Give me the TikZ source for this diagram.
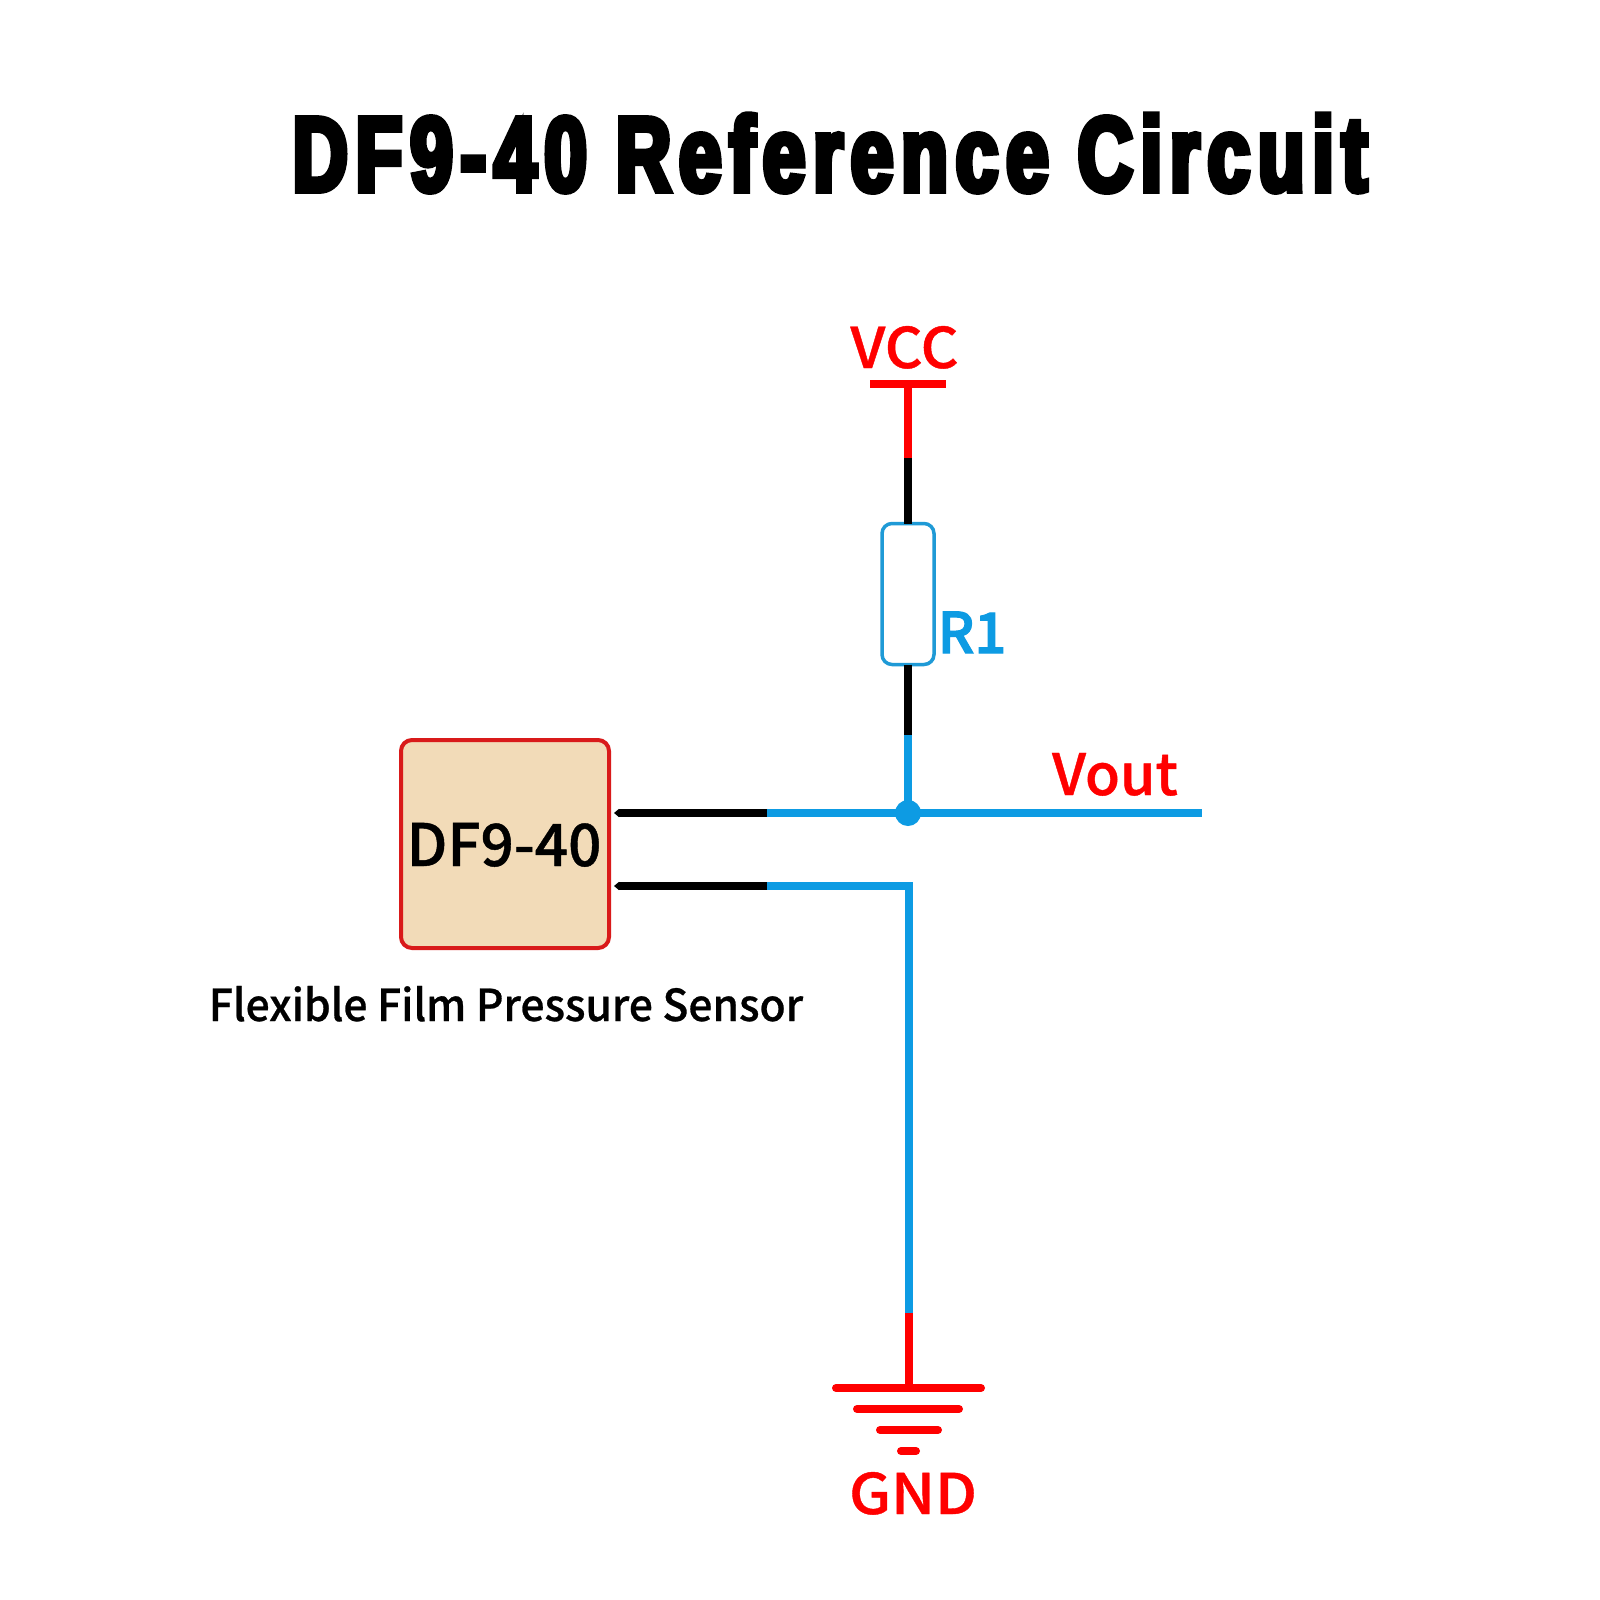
\documentclass[tikz,border=0pt]{standalone}
\usepackage{fontspec}
\usetikzlibrary{arrows.meta}
\setmainfont{Noto Sans CJK SC}
\newfontfamily\titlefont[FakeStretch=0.72,FakeBold=5.5,LetterSpace=7.5]{Liberation Sans Bold}
\newfontfamily\labfont[UprightFont=* Medium,FakeBold=0.7]{Noto Sans CJK SC}
\newfontfamily\gndfont[UprightFont=* Medium,FakeBold=0.7,FakeStretch=1.07]{Noto Sans CJK SC}
\newfontfamily\vccfont[UprightFont=* Medium,FakeBold=0.7,FakeStretch=1.05]{Noto Sans CJK SC}
\newfontfamily\flexfont[UprightFont=* Medium,FakeBold=0.6,FakeStretch=0.968]{Noto Sans CJK SC}
\newfontfamily\rfont[UprightFont=* Medium,FakeBold=2.2]{Noto Sans CJK SC}
\definecolor{wblue}{HTML}{0D9BE3}
\definecolor{wred}{HTML}{FF0000}
\definecolor{boxfill}{HTML}{F2DBB8}
\definecolor{boxline}{HTML}{D91A1A}
\definecolor{resline}{HTML}{1F9AD6}
\tikzset{
  x=1pt,y=-1pt,
  wire/.style={line width=8pt,line cap=butt},
  blackw/.style={wire,draw=black},
  bluew/.style={wire,draw=wblue},
  redw/.style={wire,draw=wred},
  tipw/.style={blackw,{Triangle[length=5pt,width=8pt]}-},
  gbar/.style={wire,draw=wred,line cap=round,line width=8pt},
  lab/.style={inner sep=0pt,outer sep=0pt,anchor=base,font=\labfont},
}
\begin{document}
\begin{tikzpicture}
\useasboundingbox (0,0) rectangle (1600,1600);
\fill[white] (0,0) rectangle (1600,1600);
% title
\node[inner sep=0pt,anchor=base,font=\titlefont\fontsize{106}{106}\selectfont] (title) at (830,191) {DF9-40 Reference Circuit};
% coordinates
\coordinate (vtop) at (908,384);
\coordinate (vbarl) at (870,384);
\coordinate (vbarr) at (946,384);
\coordinate (rv) at (908,458);
\coordinate (bv) at (908,735);
\coordinate (jn) at (908,813);
\coordinate (p1) at (614,813);
\coordinate (p1b) at (767,813);
\coordinate (out) at (1202,813);
\coordinate (p2) at (614,886);
\coordinate (p2b) at (767,886);
\coordinate (cor) at (909,886);
\coordinate (gb) at (909,1313);
\coordinate (gt) at (909,1388);
% nodes
\node[draw=resline,line width=3.5pt,rounded corners=10pt,minimum width=52pt,minimum height=141pt,inner sep=0pt,outer sep=0pt] (r1) at (908,594) {};
\node[draw=boxline,fill=boxfill,line width=4pt,rounded corners=11pt,minimum width=208pt,minimum height=208pt,inner sep=0pt,outer sep=0pt] (sensor) at (505,844) {};
% connectors
\draw[redw] (vbarl) -- (vbarr);
\draw[redw] (vtop) -- (rv);
\draw[blackw] (rv) -- (r1.north);
\draw[blackw] (r1.south) -- (bv);
\draw[bluew] (bv) -- (jn);
\draw[tipw] (p1) -- (p1b);
\draw[bluew] (p1b) -- (out);
\draw[tipw] (p2) -- (p2b);
\draw[bluew,line join=miter] (p2b) -- (cor) -- (gb);
\draw[redw] (gb) -- (gt);
\node[circle,fill=wblue,minimum size=26pt,inner sep=0pt] (dot) at (jn) {};
% ground
\coordinate (g1l) at (836,1388); \coordinate (g1r) at (981,1388);
\coordinate (g2l) at (857,1409); \coordinate (g2r) at (959,1409);
\coordinate (g3l) at (880,1430); \coordinate (g3r) at (938,1430);
\coordinate (g4l) at (901,1451); \coordinate (g4r) at (916,1451);
\draw[gbar] (g1l) -- (g1r);
\draw[gbar] (g2l) -- (g2r);
\draw[gbar] (g3l) -- (g3r);
\draw[gbar] (g4l) -- (g4r);
% labels
\node[lab,text=wred,font=\vccfont\fontsize{56}{56}\selectfont] (vcc) at (904.5,368) {VCC};
\node[lab,text=wblue,font=\rfont\fontsize{56}{56}\selectfont] (r1lab) at (972,653) {R1};
\node[lab,text=wred,font=\labfont\fontsize{57}{57}\selectfont] (vout) at (1115,795) {Vout};
\node[lab,text=black,font=\labfont\fontsize{58.5}{58.5}\selectfont] (dflab) at (504,866) {DF9-40};
\node[lab,text=black,font=\flexfont\fontsize{44}{44}\selectfont] (flex) at (506,1021) {Flexible Film Pressure Sensor};
\node[lab,text=wred,font=\gndfont\fontsize{56}{56}\selectfont] (gnd) at (913,1514) {GND};
\end{tikzpicture}
\end{document}
